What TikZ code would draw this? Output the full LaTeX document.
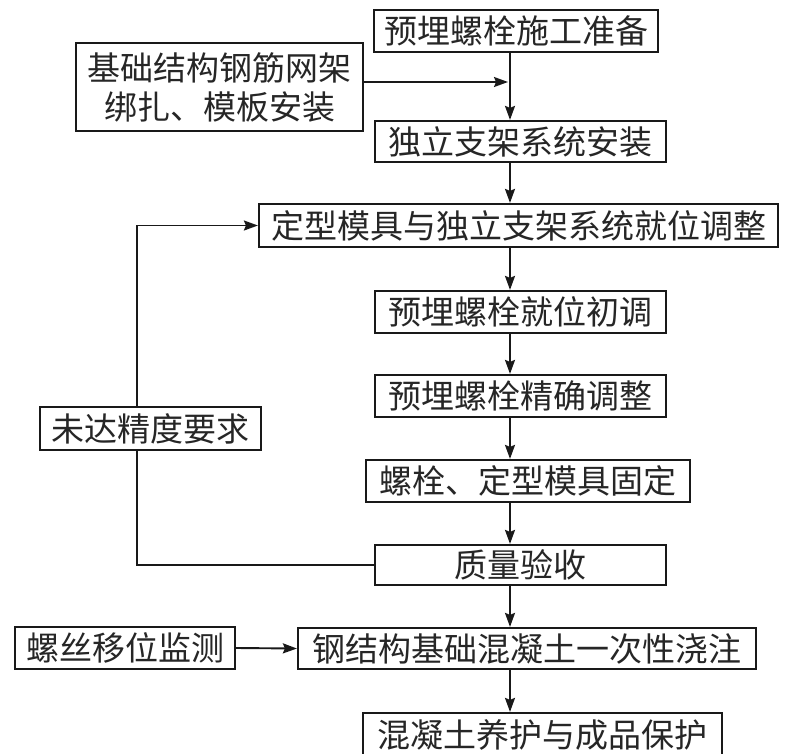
\documentclass[tikz,border=0pt]{standalone}
\usepackage{fontspec}
\newfontfamily\cjk{Noto Sans CJK SC}
\usetikzlibrary{arrows.meta,backgrounds}
\tikzset{
  box/.style={draw=black!90, line width=2.2pt, fill=white, inner sep=0pt, align=center,
    font=\cjk\fontsize{33}{39}\selectfont, text=black!85},
  arr/.style={line width=1.9pt, draw=black!90, -{Stealth[length=14pt,width=10pt,inset=2pt]}},
  ln/.style={line width=1.9pt, draw=black!90}
}
\newcommand{\bx}[6]{\node[box, minimum width=#4pt, minimum height=#5pt] (#1) at (#2,#3) {#6};}
\begin{document}
\begin{tikzpicture}[x=1pt,y=-1pt]
\useasboundingbox (0,0) rectangle (795,753);
\coordinate (ax) at (510,0);
\coordinate (fb) at (137,0);
\coordinate (j2) at (508,82);
\bx{b1}{516}{31}{284}{42}{预埋螺栓施工准备}
\bx{b2}{219.5}{87}{287}{88}{基础结构钢筋网架\\绑扎、模板安装}
\bx{b3}{520.5}{141.5}{291}{41}{独立支架系统安装}
\bx{b4}{518.5}{225.5}{519}{43}{定型模具与独立支架系统就位调整}
\bx{b5}{520.5}{312}{291}{42}{预埋螺栓就位初调}
\bx{b6}{520.5}{396}{291}{42}{预埋螺栓精确调整}
\bx{b7}{528}{481}{324}{42}{螺栓、定型模具固定}
\bx{b12}{150.5}{428.5}{221}{43}{未达精度要求}
\bx{b8}{520.5}{565}{291}{40}{质量验收}
\bx{b10}{125}{648}{220}{42}{螺丝移位监测}
\bx{b9}{527}{648.5}{458}{41}{钢结构基础混凝土一次性浇注}
\bx{b11}{542.5}{734.5}{359}{43}{混凝土养护与成品保护}
\draw[arr] (b1.south -| ax) -- (b3.north -| ax);
\draw[arr] (b2.east |- j2) -- (j2);
\draw[arr] (b3.south -| ax) -- (b4.north -| ax);
\draw[arr] (b4.south -| ax) -- (b5.north -| ax);
\draw[arr] (b5.south -| ax) -- (b6.north -| ax);
\draw[arr] (b6.south -| ax) -- (b7.north -| ax);
\draw[arr] (b7.south -| ax) -- (b8.north -| ax);
\draw[arr] (b8.south -| ax) -- (b9.north -| ax);
\draw[arr] (b9.south -| ax) -- (b11.north -| ax);
\draw[arr] (b10.east) -- (b9.west);
\begin{scope}[on background layer]
\draw[arr] (b8.west) -- (b8.west -| fb) -- (b4.west -| fb) -- (b4.west);
\end{scope}
\end{tikzpicture}
\end{document}
